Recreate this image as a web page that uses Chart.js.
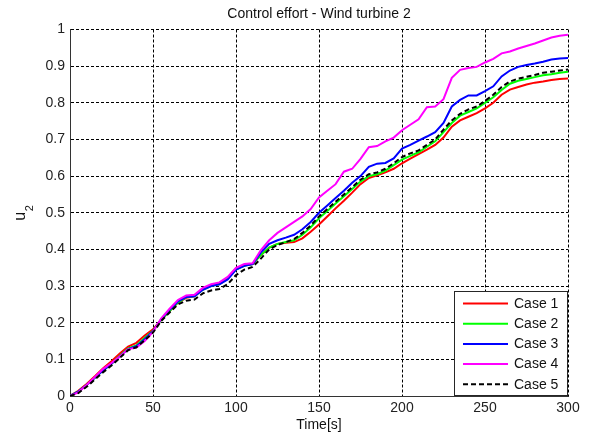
<!DOCTYPE html>
<html>
<head>
<meta charset="utf-8">
<script src="https://cdn.jsdelivr.net/npm/chart.js@4"></script>
<style>
  body { margin: 0; background: #fff; }
  #wrap { width: 591px; height: 441px; position: relative; }
</style>
</head>
<body>
<div id="wrap"><canvas id="effortChart"></canvas></div>
<script>
// time axis [s]
const times = [0, 5, 10, 15, 20, 25, 30, 35, 40, 45, 50, 55, 60, 65, 70, 75, 80, 85, 90, 95,
  100, 105, 110, 115, 120, 125, 130, 135, 140, 145, 150, 155, 160, 165, 170, 175, 180, 185, 190, 195,
  200, 205, 210, 215, 220, 225, 230, 235, 240, 245, 250, 255, 260, 265, 270, 275, 280, 285, 290, 295, 300];

// control effort u2 for each case
const case1 = [0, 0.014, 0.033, 0.054, 0.076, 0.095, 0.116, 0.135, 0.145, 0.165, 0.182, 0.208, 0.232, 0.255, 0.268, 0.272, 0.292, 0.302, 0.308, 0.322,
  0.348, 0.356, 0.36, 0.385, 0.405, 0.415, 0.418, 0.42, 0.43, 0.448, 0.468, 0.49, 0.512, 0.533, 0.555, 0.578, 0.595, 0.602, 0.61, 0.62,
  0.635, 0.648, 0.66, 0.672, 0.685, 0.705, 0.735, 0.752, 0.762, 0.772, 0.785, 0.8, 0.822, 0.836, 0.843, 0.85, 0.855, 0.858, 0.862, 0.865, 0.866];
const case2 = [0, 0.012, 0.03, 0.05, 0.07, 0.088, 0.11, 0.13, 0.138, 0.158, 0.178, 0.208, 0.232, 0.255, 0.27, 0.272, 0.29, 0.3, 0.305, 0.32,
  0.345, 0.355, 0.36, 0.385, 0.405, 0.415, 0.42, 0.425, 0.44, 0.46, 0.485, 0.505, 0.525, 0.545, 0.565, 0.585, 0.6, 0.605, 0.615, 0.63,
  0.645, 0.655, 0.665, 0.68, 0.695, 0.72, 0.745, 0.765, 0.775, 0.785, 0.8, 0.815, 0.835, 0.852, 0.86, 0.865, 0.87, 0.875, 0.878, 0.882, 0.885];
const case3 = [0, 0.012, 0.03, 0.05, 0.07, 0.088, 0.108, 0.128, 0.136, 0.155, 0.177, 0.21, 0.235, 0.258, 0.27, 0.272, 0.29, 0.3, 0.305, 0.318,
  0.345, 0.355, 0.36, 0.392, 0.415, 0.425, 0.432, 0.44, 0.455, 0.475, 0.5, 0.52, 0.54, 0.56, 0.582, 0.6, 0.625, 0.634, 0.636, 0.648,
  0.675, 0.685, 0.697, 0.708, 0.72, 0.745, 0.79, 0.808, 0.82, 0.82, 0.832, 0.845, 0.872, 0.888, 0.898, 0.903, 0.907, 0.912, 0.918, 0.921, 0.922];
const case4 = [0, 0.01, 0.03, 0.052, 0.074, 0.09, 0.108, 0.128, 0.132, 0.15, 0.175, 0.212, 0.238, 0.262, 0.274, 0.276, 0.295, 0.305, 0.31, 0.325,
  0.35, 0.36, 0.362, 0.398, 0.425, 0.445, 0.46, 0.475, 0.49, 0.51, 0.542, 0.56, 0.578, 0.612, 0.62, 0.647, 0.679, 0.682, 0.695, 0.705,
  0.725, 0.74, 0.755, 0.788, 0.79, 0.81, 0.868, 0.89, 0.895, 0.898, 0.91, 0.92, 0.935, 0.94, 0.948, 0.955, 0.962, 0.97, 0.978, 0.983, 0.986];
const case5 = [0, 0.008, 0.025, 0.045, 0.065, 0.083, 0.104, 0.125, 0.133, 0.152, 0.173, 0.205, 0.228, 0.25, 0.26, 0.263, 0.28, 0.288, 0.292, 0.305,
  0.33, 0.345, 0.352, 0.375, 0.4, 0.412, 0.42, 0.428, 0.445, 0.465, 0.49, 0.51, 0.53, 0.55, 0.57, 0.59, 0.605, 0.61, 0.62, 0.635,
  0.652, 0.662, 0.67, 0.685, 0.7, 0.727, 0.752, 0.77, 0.782, 0.79, 0.805, 0.822, 0.843, 0.858, 0.866, 0.871, 0.876, 0.882, 0.885, 0.888, 0.891];

const caseNames = ['Case 1', 'Case 2', 'Case 3', 'Case 4', 'Case 5'];
const caseColors = ['#ff0000', '#00ff00', '#0000ff', '#ff00ff', '#000000'];
const xTicks = [0, 50, 100, 150, 200, 250, 300];
const yTicks = [0, 0.1, 0.2, 0.3, 0.4, 0.5, 0.6, 0.7, 0.8, 0.9, 1];

const FONT = 'Arial, "Liberation Sans", Helvetica, sans-serif';

function toPoints(values) {
    return times.map((t, i) => ({ x: t, y: values[i] }));
}

const allCases = [case1, case2, case3, case4, case5];
const datasets = allCases.map((vals, i) => ({
    label: caseNames[i],
    data: toPoints(vals),
    borderColor: caseColors[i],
    backgroundColor: caseColors[i],
    borderWidth: 2,
    borderDash: i === 4 ? [5, 3] : [],
    pointRadius: 0,
    tension: 0,
    fill: false,
    order: 5 - i // later cases drawn on top, like matlab
}));

// legend box inside the axes, bottom right corner
const boxLegend = {
    id: 'boxLegend',
    afterDatasetsDraw(chart) {
        const ctx = chart.ctx;
        const area = chart.chartArea;
        const w = 114, h = 105;
        const left = area.right - w;
        const top = area.bottom - h;
        ctx.save();
        ctx.fillStyle = '#fff';
        ctx.fillRect(left, top, w, h);
        ctx.strokeStyle = '#262626';
        ctx.lineWidth = 1;
        ctx.strokeRect(Math.round(left) + 0.5, Math.round(top) + 0.5, w - 1, h - 1);
        ctx.font = '14px ' + FONT;
        ctx.textBaseline = 'middle';
        chart.data.datasets.forEach((ds, i) => {
            const y = top + 12.5 + i * 20.2;
            ctx.strokeStyle = ds.borderColor;
            ctx.lineWidth = 2;
            ctx.setLineDash(ds.borderDash);
            ctx.beginPath();
            ctx.moveTo(left + 9, y);
            ctx.lineTo(left + 54, y);
            ctx.stroke();
            ctx.setLineDash([]);
            ctx.fillStyle = '#111';
            ctx.fillText(ds.label, left + 60, y + 0.5);
        });
        ctx.restore();
    }
};

// y label "u" with subscript 2, rotated like matlab's ylabel
const yLabel = {
    id: 'yLabel',
    afterDraw(chart) {
        const ctx = chart.ctx;
        const area = chart.chartArea;
        const midY = (area.top + area.bottom) / 2;
        ctx.save();
        ctx.translate(25, midY + 8);
        ctx.rotate(-Math.PI / 2);
        ctx.fillStyle = '#111';
        ctx.textAlign = 'left';
        ctx.textBaseline = 'alphabetic';
        ctx.font = '16px ' + FONT;
        ctx.fillText('u', 0, 0);
        const uw = ctx.measureText('u').width;
        ctx.font = '11px ' + FONT;
        ctx.fillText('2', uw + 0.5, 8);
        ctx.restore();
    }
};

const ctx = document.getElementById('effortChart').getContext('2d');
new Chart(ctx, {
    type: 'line',
    data: { datasets: datasets },
    plugins: [boxLegend, yLabel],
    options: {
        responsive: true,
        maintainAspectRatio: false,
        animation: false,
        layout: { padding: { left: 0, right: 23, top: 0, bottom: 0 } },
        plugins: {
            legend: { display: false },
            tooltip: { enabled: false },
            title: {
                display: true,
                text: 'Control effort - Wind turbine 2',
                color: '#111',
                fullSize: false,
                font: { family: FONT, size: 14, weight: 'normal' },
                padding: { top: 6.2, bottom: 6.5 }
            }
        },
        scales: {
            x: {
                type: 'linear',
                min: 0,
                max: 300,
                afterBuildTicks: (scale) => { scale.ticks = xTicks.map(v => ({ value: v })); },
                afterFit: (scale) => { scale.height = 45; },
                grid: { color: '#000', lineWidth: 1, drawTicks: false },
                border: { display: true, color: '#333', width: 1, dash: [3, 2] },
                ticks: { color: '#222', padding: 4, font: { family: FONT, size: 14 }, maxRotation: 0 },
                title: {
                    display: true,
                    text: 'Time[s]',
                    color: '#111',
                    font: { family: FONT, size: 14 },
                    padding: { top: 0, bottom: 7 }
                }
            },
            y: {
                type: 'linear',
                min: 0,
                max: 1,
                afterBuildTicks: (scale) => { scale.ticks = yTicks.map(v => ({ value: v })); },
                afterFit: (scale) => { scale.width = 70; },
                grid: { color: '#000', lineWidth: 1, drawTicks: false },
                border: { display: true, color: '#333', width: 1, dash: [3, 2] },
                ticks: {
                    color: '#222',
                    padding: 5,
                    font: { family: FONT, size: 14 },
                    callback: (v) => String(Math.round(v * 10) / 10)
                },
                title: { display: false }
            }
        }
    }
});
</script>
</body>
</html>
